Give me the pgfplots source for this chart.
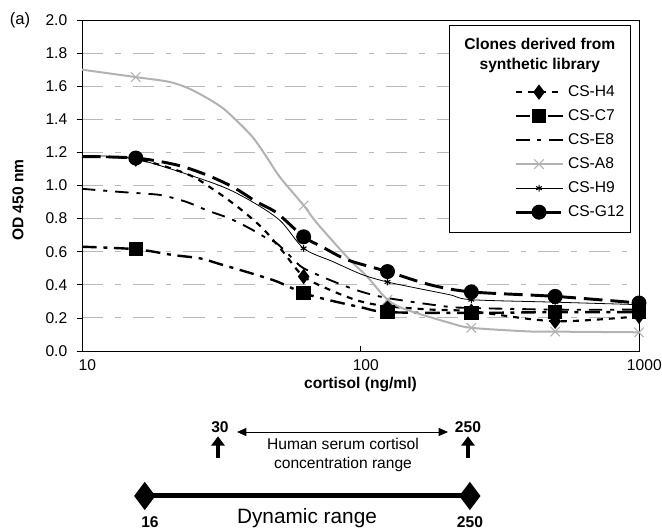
\documentclass[border=0pt]{standalone}
\usepackage{fontspec}
\setmainfont{Liberation Sans}
\usepackage{pgfplots}
\pgfplotsset{compat=1.18}
\usetikzlibrary{arrows.meta}
\begin{document}
\fontsize{11.7}{14}\selectfont
\begin{tikzpicture}
\begin{axis}[
  at={(0,0)}, anchor=south west,
  scale only axis, width=417.75pt, height=248.25pt,
  xmode=log, log basis x=10,
  xmin=10, xmax=1000, ymin=0, ymax=2,
  xtick={10,100,1000}, xticklabels={10,100,1000},
  ytick={0,0.2,0.4,0.6,0.8,1.0,1.2,1.4,1.6,1.8,2.0},
  yticklabel style={xshift=-3pt, /pgf/number format/.cd, fixed, fixed zerofill, precision=1},
  /pgf/number format/assume math mode=true,
  xticklabel style={xshift=4pt, yshift=-2pt},
  tick pos=left,
  ytick align=outside, xtick align=inside,
  major tick length=4pt, minor tick length=3pt,
  axis line style={line width=0.6pt},
  every tick/.style={black, line width=0.6pt},
  ymajorgrids,
  major grid style={gray!55, line width=0.7pt, dash pattern=on 16pt off 9pt on 4pt off 9pt},
  xlabel={\bfseries cortisol (ng/ml)},
  ylabel={\bfseries OD 450 nm},
  xlabel style={at={(axis description cs:0.5,-0.0997)}, anchor=center},
  ylabel style={at={(axis description cs:-0.115,0.456)}, anchor=center, rotate=0},
  clip=false,
  legend image code/.code={\draw[mark repeat=2,mark phase=2,#1] plot coordinates {(0cm,0cm) (0.62cm,0cm) (1.24cm,0cm)};},
  legend style={at={(0.768,0.815)}, anchor=north west, draw=none, fill=none,
    nodes={inner sep=0pt, text height=9pt, text depth=3pt}, row sep=6pt, column sep=3pt},
  legend cell align=left,
]
% legend frame drawn first (covers grid)
\fill[white] (rel axis cs:0.6589,0.3595) rectangle (rel axis cs:0.9838,0.985);
\draw[line width=0.6pt] (rel axis cs:0.6589,0.3595) rectangle (rel axis cs:0.9838,0.985);
\node[align=center, font=\bfseries\fontsize{11.7}{15}\selectfont] at (rel axis cs:0.822,0.894) {Clones derived from\\synthetic library};

% CS-H4
\addplot[black, line width=1.6pt, dash pattern=on 4.5pt off 4.5pt, smooth,
  mark=diamond*, mark size=4.5pt, mark options={solid}, mark indices={2,8,11,13,14,15}]
  coordinates {(10,1.175)(15.6,1.16)(23.8,1.07)(30,0.97)(36.9,0.86)(44.6,0.74)(52.7,0.60)(62.5,0.45)(80,0.36)(100,0.30)(125,0.27)(180,0.25)(250,0.24)(500,0.18)(1000,0.21)};
\addlegendentry{CS-H4}
% CS-C7
\addplot[black, line width=1.8pt, dash pattern=on 11pt off 5pt on 3pt off 5pt, smooth,
  mark=square*, mark size=4.5pt, mark options={solid}, mark indices={2,9,12,13,14,15}]
  coordinates {(10,0.63)(15.6,0.615)(21.2,0.58)(26.5,0.56)(31.3,0.525)(36.9,0.49)(44.2,0.45)(50.1,0.42)(62.5,0.35)(76,0.31)(100,0.265)(125,0.235)(250,0.23)(500,0.235)(1000,0.235)};
\addlegendentry{CS-C7}
% CS-E8
\addplot[black, line width=1.4pt, dash pattern=on 10pt off 6pt on 3pt off 6pt, smooth]
  coordinates {(10,0.98)(14,0.96)(17.1,0.95)(19.5,0.94)(23.8,0.90)(28.1,0.85)(34,0.80)(40.1,0.74)(46.2,0.68)(50.1,0.65)(57,0.56)(62.5,0.50)(80,0.42)(100,0.36)(125,0.32)(200,0.27)(250,0.26)(500,0.25)(1000,0.25)};
\addlegendentry{CS-E8}
% CS-A8
\addplot[gray!60, line width=1.5pt, smooth,
  mark=x, mark size=5pt, mark options={solid, line width=0.8pt}, mark indices={2,10,14,17,19,20}]
  coordinates {(10,1.70)(15.6,1.655)(20.7,1.625)(25,1.575)(31.3,1.48)(36,1.39)(41.1,1.29)(46.1,1.17)(51.4,1.05)(62.5,0.88)(70,0.77)(91.6,0.55)(105.6,0.45)(125,0.31)(146,0.25)(209,0.17)(250,0.14)(405,0.118)(500,0.117)(1000,0.113)};
\addlegendentry{CS-A8}
% CS-H9
\addplot[black, line width=0.6pt, smooth,
  mark=asterisk, mark size=2.5pt, mark options={solid, line width=0.8pt}, mark indices={2,6,9,12,13,14}]
  coordinates {(10,1.18)(15.6,1.16)(29.5,1.015)(39.1,0.92)(51.3,0.79)(62.5,0.62)(79.6,0.54)(102,0.46)(125,0.417)(159,0.38)(209,0.34)(250,0.31)(500,0.295)(1000,0.28)};
\addlegendentry{CS-H9}
% CS-G12
\addplot[black, line width=2.2pt, dash pattern=on 14pt off 6pt, smooth,
  mark=*, mark size=4.5pt, mark options={solid}, mark indices={2,8,11,13,14,15}]
  coordinates {(10,1.175)(15.6,1.166)(21.9,1.124)(28.1,1.063)(34.9,0.99)(42.5,0.90)(50.1,0.834)(62.5,0.69)(72.7,0.63)(90,0.55)(125,0.48)(178,0.40)(250,0.357)(500,0.33)(1000,0.29)};
\addlegendentry{CS-G12}

% dynamic range bar
\addplot[black, line width=3.75pt, mark=diamond*, mark size=7.5pt, forget plot]
  coordinates {(16.8,-0.876)(247,-0.876)};
\end{axis}

\node[font=\fontsize{12.5}{15}\selectfont] at (-46.5pt,248.25pt) {(a)};
% serum range annotation
\node[font=\bfseries] at (103.5pt,-57pt) {30};
\node[font=\bfseries] at (289.5pt,-57pt) {250};
\draw[line width=3.6pt, -{Triangle[length=7pt,width=10pt]}] (102pt,-80.5pt) -- (102pt,-64pt);
\draw[line width=3.6pt, -{Triangle[length=7pt,width=10pt]}] (289.5pt,-80.5pt) -- (289.5pt,-64pt);
\draw[line width=0.6pt, {Triangle[length=7pt,width=6pt]}-{Triangle[length=7pt,width=6pt]}] (116.25pt,-60.75pt) -- (274.5pt,-60.75pt);
\node[align=center, font=\fontsize{11.7}{14.25}\selectfont] at (195.75pt,-78pt) {Human serum cortisol\\concentration range};
% dynamic range labels
\node[font=\bfseries] at (51pt,-128.25pt) {16};
\node[font=\bfseries] at (291pt,-128.25pt) {250};
\node[font=\fontsize{15.6}{18}\selectfont] at (168.75pt,-125.25pt) {Dynamic range};

\pgfresetboundingbox
\path[use as bounding box] (-61.5pt,-133.5pt) rectangle (435pt,263.25pt);
\end{tikzpicture}
\end{document}
